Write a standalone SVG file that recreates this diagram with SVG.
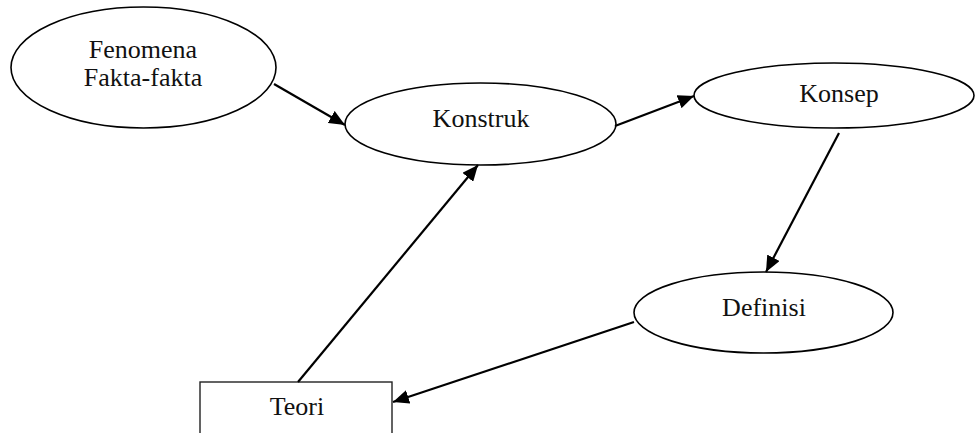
<svg xmlns="http://www.w3.org/2000/svg" width="975" height="433" viewBox="0 0 975 433">
  <style>
    .node { fill: #ffffff; stroke: #000000; stroke-width: 1.6; }
    .box { fill: #ffffff; stroke: #222222; stroke-width: 1.4; }
    .label { font-family: "Liberation Serif", "Times New Roman", serif; font-size: 26px; fill: #111111; text-anchor: middle; }
    .edge { fill: none; stroke: #000000; stroke-width: 2.2; marker-end: url(#head); }
  </style>
  <defs>
    <marker id="head" markerUnits="userSpaceOnUse" markerWidth="17" markerHeight="14" refX="16" refY="7" orient="auto">
      <path d="M0,0 L16,7 L0,14 z" fill="#000000"/>
    </marker>
  </defs>
  <rect width="975" height="433" fill="#ffffff"/>

  <g id="fenomena">
    <ellipse class="node" cx="143.5" cy="67.5" rx="132.5" ry="60.5"/>
    <text class="label" x="143" y="58">Fenomena</text>
    <text class="label" x="143" y="86">Fakta-fakta</text>
  </g>

  <g id="konstruk">
    <ellipse class="node" cx="480.5" cy="124" rx="135.5" ry="41"/>
    <text class="label" x="481" y="127">Konstruk</text>
  </g>

  <g id="konsep">
    <ellipse class="node" cx="834" cy="95.5" rx="140" ry="32.5"/>
    <text class="label" x="839" y="102">Konsep</text>
  </g>

  <g id="definisi">
    <ellipse class="node" cx="763.5" cy="312.5" rx="129.5" ry="40.5"/>
    <text class="label" x="764" y="316">Definisi</text>
  </g>

  <g id="teori">
    <rect class="box" x="200" y="382" width="192" height="60"/>
    <text class="label" x="297" y="415">Teori</text>
  </g>

  <g id="connectors">
    <line class="edge" x1="274" y1="84" x2="345" y2="125"/>
    <line class="edge" x1="615" y1="126" x2="694" y2="96"/>
    <line class="edge" x1="839" y1="133" x2="766" y2="272"/>
    <line class="edge" x1="634" y1="322" x2="393" y2="402"/>
    <line class="edge" x1="298" y1="382" x2="478" y2="165"/>
  </g>
</svg>
